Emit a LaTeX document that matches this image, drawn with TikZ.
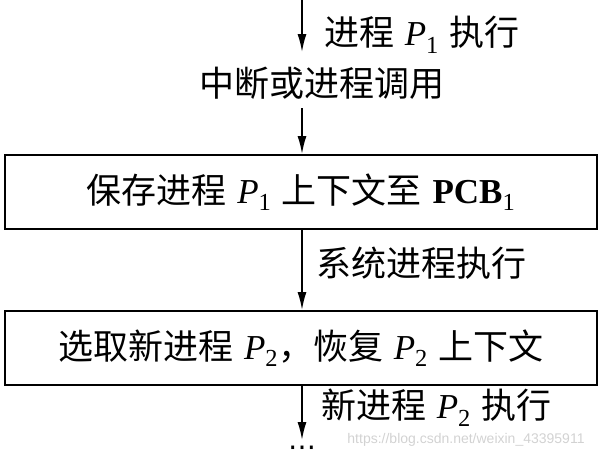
\documentclass[tikz,border=0pt]{standalone}
\usepackage{fontspec}
\newfontfamily\cjk{Noto Sans CJK SC}
\newfontfamily\latin{Liberation Serif}
\newfontfamily\wmfont{Liberation Sans}
\newfontfamily\dotfont{DejaVu Sans}
\usetikzlibrary{positioning,arrows.meta}

\newcommand{\proc}[1]{{\latin\textit{P}\textsubscript{#1}}}

\tikzset{
  stagebox/.style={draw, line width=2pt, minimum width=592pt, minimum height=74pt, inner sep=0pt},
  flow/.style={line width=1.6pt, -{Latex[length=18pt,width=9pt]}},
  steplabel/.style={anchor=west, inner sep=0pt}
}

\begin{document}
\begin{tikzpicture}[x=1pt,y=-1pt,font=\fontsize{35}{40}\selectfont]
  \useasboundingbox (0,0) rectangle (608,464);

  % flow of control
  \coordinate (start) at (302,0);
  \coordinate (p1end) at (302,52);
  \node (intr) at (322,83) {\cjk 中断或进程调用};
  \coordinate (introut) at (302,108);

  \node[stagebox] (save) at (301,192) {{\cjk 保存进程} \proc{1} {\cjk 上下文至} {\latin\textbf{PCB}\textsubscript{1}}};
  \node[stagebox] (pick) at (301,348) {{\cjk 选取新进程} \proc{2}{\cjk ，恢复} \proc{2} {\cjk 上下文}};

  \coordinate (p2end) at (302,440);
  \node[anchor=base, inner sep=0pt] (dots) at (302,456) {\dotfont\fontsize{28}{28}\selectfont ⋯};

  \draw[flow] (start) -- (p1end);
  \draw[flow] (introut) -- (save.north -| start);
  \draw[flow] (save.south -| start) -- (pick.north -| start);
  \draw[flow] (pick.south -| start) -- (p2end);

  % labels beside the arrows
  \node[steplabel] (lab1) at (324,35) {{\cjk 进程} \proc{1} {\cjk 执行}};
  \node[steplabel] (lab2) at (316,263) {\cjk 系统进程执行};
  \node[steplabel] (lab3) at (321,408) {{\cjk 新进程} \proc{2} {\cjk 执行}};

  \node[text=gray!35, font=\wmfont\fontsize{14}{16}\selectfont, inner sep=1pt] (mark) at (466,440) {https://blog.csdn.net/weixin\_43395911};
\end{tikzpicture}
\end{document}
